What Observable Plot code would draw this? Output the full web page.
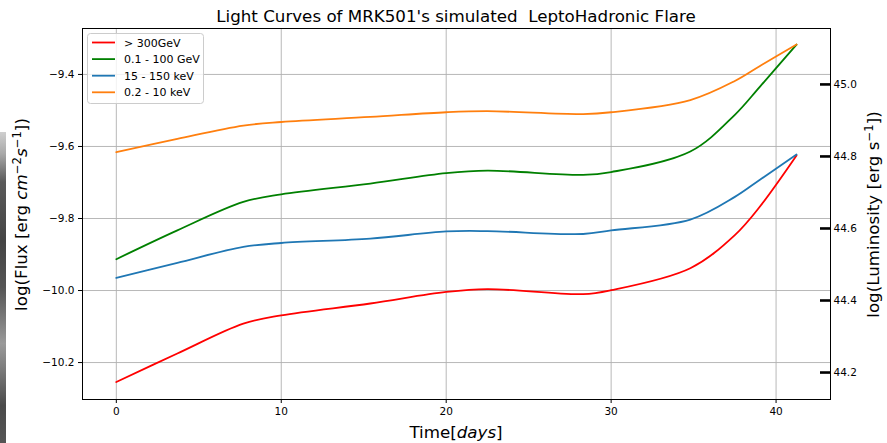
<!DOCTYPE html>
<html><head><meta charset="utf-8">
<script src="https://cdn.jsdelivr.net/npm/d3@7"></script>
<script src="https://cdn.jsdelivr.net/npm/@observablehq/plot@0.6"></script>
<style>
html,body{margin:0;padding:0;background:#fff;}
#wrap{position:relative;width:887px;height:443px;overflow:hidden;}
#strip{position:absolute;left:0;top:132px;width:6px;height:311px;z-index:2;
 background:linear-gradient(to bottom,#cfcfcf 0%,#a8a8a8 7%,#5a5a5a 16%,#444 35%,#555 50%,#7a7a7a 60%,#9a9a9a 68%,#7c7c7c 76%,#4a4a4a 88%,#555 100%);}
</style></head><body><div id="wrap"><div id="strip"></div></div>
<script>
// ---- data ----
const seriesNames = ["> 300GeV", "0.1 - 100 GeV", "15 - 150 keV", "0.2 - 10 keV"];
const seriesColors = ["#ff0000", "#008000", "#1f77b4", "#ff7f0e"];
const days = [0, 3.7, 7.7, 10, 15.4, 20, 22.5, 28.3, 30, 34.8, 37.5, 39, 41.24];
const fluxVHE   = [-10.254, -10.175, -10.092, -10.069, -10.036, -10.004, -9.996, -10.010, -9.999, -9.938, -9.846, -9.768, -9.625];
const fluxGeV   = [-9.913, -9.833, -9.754, -9.733, -9.703, -9.674, -9.667, -9.679, -9.671, -9.614, -9.512, -9.435, -9.317];
const fluxHardX = [-9.965, -9.923, -9.879, -9.868, -9.856, -9.836, -9.835, -9.843, -9.833, -9.803, -9.740, -9.693, -9.622];
const fluxSoftX = [-9.616, -9.579, -9.542, -9.532, -9.518, -9.505, -9.502, -9.510, -9.505, -9.471, -9.418, -9.377, -9.317];
const xTicks = [0, 10, 20, 30, 40];
const fluxTicks = [-10.2, -10.0, -9.8, -9.6, -9.4];
const lumTicks = [44.2, 44.4, 44.6, 44.8, 45.0];
const lumOffset = 54.4277; // log L = log F + offset
const xDomain = [-2.05, 43.3];
const yDomain = [-10.3026, -9.2724];
const titleText = "Light Curves of MRK501's simulated\u00a0 LeptoHadronic Flare";

const allFlux = [fluxVHE, fluxGeV, fluxHardX, fluxSoftX];
const rows = [];
seriesNames.forEach((s, i) => days.forEach((d, j) => rows.push({series: s, day: d, flux: allFlux[i][j]})));

const fmt = d => d.toFixed(1).replace("-", "\u2212");
const W = 887, H = 443, mL = 82, mR = 57, mT = 28, mB = 44;
const FONT = '"DejaVu Sans", sans-serif';

const plot = Plot.plot({
  width: W, height: H, marginLeft: mL, marginRight: mR, marginTop: mT, marginBottom: mB,
  style: {fontFamily: FONT, fontSize: "10.5px", color: "black", background: "white"},
  x: {domain: xDomain},
  y: {domain: yDomain},
  color: {domain: seriesNames, range: seriesColors},
  marks: [
    Plot.gridX({ticks: xTicks, stroke: "#b0b0b0", strokeOpacity: 1, strokeWidth: 0.9}),
    Plot.gridY({ticks: fluxTicks, stroke: "#b0b0b0", strokeOpacity: 1, strokeWidth: 0.9}),
    Plot.line(rows, {x: "day", y: "flux", z: "series", stroke: "series", curve: "catmull-rom", strokeWidth: 1.8}),
    Plot.frame({stroke: "black", strokeWidth: 1}),
    Plot.axisX({ticks: xTicks, tickSize: 4, tickPadding: 4, label: null, tickFormat: d => String(d)}),
    Plot.axisY({anchor: "left", ticks: fluxTicks, tickSize: 4, tickPadding: 4, label: null, tickFormat: fmt}),
    Plot.axisY({anchor: "right", ticks: lumTicks.map(L => L - lumOffset), tickSize: 11, insetRight: 11, strokeWidth: 2.6, tickFormat: () => "", label: null}),
    Plot.axisY({anchor: "right", ticks: lumTicks.map(L => L - lumOffset), tickSize: 0, tickPadding: 3, tickFormat: d => (d + lumOffset).toFixed(1), label: null})
  ]
});
document.getElementById("wrap").appendChild(plot);

const svg = d3.select(plot);
// title
svg.append("text").attr("x", (mL + W - mR) / 2).attr("y", 21.5).attr("text-anchor", "middle")
  .attr("font-family", FONT).attr("font-size", 16.7).attr("fill", "black").text(titleText);

function richLabel(parts, x, y, rot) {
  const t = svg.append("text").attr("text-anchor", "middle").attr("font-family", FONT)
    .attr("font-size", 16.7).attr("fill", "black")
    .attr("transform", `translate(${x},${y}) rotate(${rot})`);
  let raised = false;
  parts.forEach(p => {
    const ts = t.append("tspan").text(p.t);
    if (p.i) ts.attr("font-style", "italic");
    if (p.sup) { ts.attr("font-size", 11.7); if (!raised) { ts.attr("dy", -6.5); raised = true; } }
    else if (raised) { ts.attr("dy", 6.5); raised = false; }
  });
}
richLabel([{t: "log(Flux [erg "}, {t: "cm", i: true}, {t: "\u22122", sup: true}, {t: "s", i: true}, {t: "\u22121", sup: true}, {t: "])"}], 27, 214.5, -90);
richLabel([{t: "log(Luminosity [erg s"}, {t: "\u22121", sup: true}, {t: "])"}], 879, 214.5, -90);
richLabel([{t: "Time["}, {t: "days", i: true}, {t: "]"}], (mL + W - mR) / 2, 438, 0);

// legend
const lg = svg.append("g");
lg.append("rect").attr("x", 87.5).attr("y", 33.5).attr("width", 116).attr("height", 70).attr("rx", 3)
  .attr("fill", "white").attr("fill-opacity", 0.8).attr("stroke", "#cccccc");
seriesNames.forEach((s, i) => {
  const yy = 42.5 + i * 16.6;
  lg.append("line").attr("x1", 92).attr("x2", 115).attr("y1", yy).attr("y2", yy)
    .attr("stroke", seriesColors[i]).attr("stroke-width", 1.8);
  lg.append("text").attr("x", 124).attr("y", yy + 4).attr("text-anchor", "start").attr("font-family", FONT).attr("font-size", 11)
    .attr("fill", "black").text(s);
});
</script>
</body></html>
